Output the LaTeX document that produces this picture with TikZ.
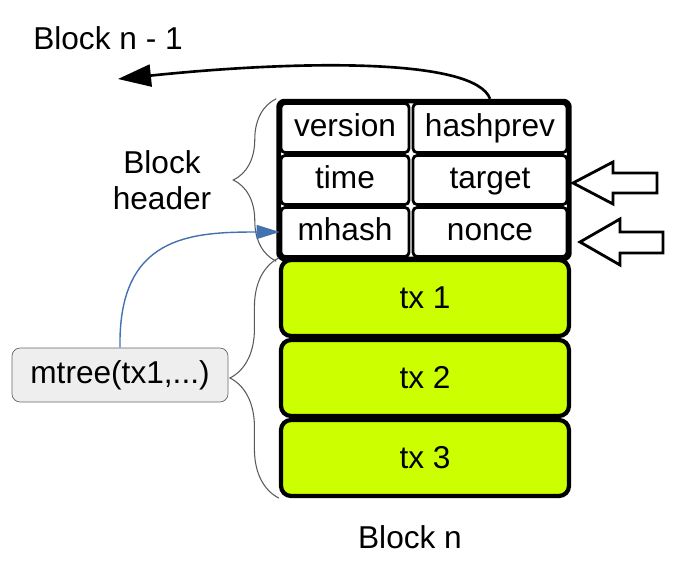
\documentclass[tikz,border=0pt]{standalone}
\usepackage{fontspec}
\setmainfont{Liberation Sans}
\usepackage{tikz}
\usetikzlibrary{arrows.meta,fit,decorations.pathreplacing}
\definecolor{txgreen}{RGB}{204,255,0}
\definecolor{treegray}{RGB}{238,238,238}
\definecolor{linkblue}{RGB}{68,114,176}

\begin{document}
\begin{tikzpicture}[x=0.02cm,y=-0.02cm,
    every node/.style={font=\fontsize{18}{20.5}\selectfont},
    field/.style={draw,fill=white,line width=1.6pt,rounded corners=0.08cm,
                  minimum width=2.56cm,minimum height=0.98cm,inner sep=0pt,
                  text height=13pt,text depth=3.8pt},
    wide field/.style={field,minimum width=3.08cm},
    tx node/.style={draw,fill=txgreen,line width=2.4pt,rounded corners=0.2cm,
                    minimum width=5.76cm,minimum height=1.52cm},
    frame/.style={draw,line width=2.6pt,rounded corners=0.12cm,inner sep=0.6pt},
    tree node/.style={draw=black!60,fill=treegray,rounded corners=0.16cm,
                      minimum width=4.32cm,minimum height=1.08cm},
    side brace/.style={draw=black!65,line width=0.6pt,decorate},
    hollow/.style={draw,fill=white,line width=1.6pt,line join=miter}]
  \useasboundingbox (0,0) rectangle (674,571);

  % header fields
  \node[field] (version) at (345,128) {version};
  \node[wide field] (hashprev) at (490,128) {hashprev};
  \node[field] (time) at (345,180) {time};
  \node[wide field] (target) at (490,180) {target};
  \node[field] (mhash) at (345,232) {mhash};
  \node[wide field] (nonce) at (490,232) {nonce};
  \node[frame,fit=(version)(nonce)] (header) {};

  % transactions
  \foreach \i/\y in {1/298,2/378,3/458}
    \node[tx node] (tx\i) at (425,\y) {tx \i};

  \node (blockn) at (410,537) {Block n};
  \node (prevlabel) at (108,38) {Block n - 1};
  \node[align=center] (hdrlabel) at (162,180) {Block\\header};
  \node[tree node] (mtree) at (120,375) {mtree(tx1,...)};

  \draw[side brace,decoration={brace,amplitude=0.86cm}]
    (header.south west) -- (header.north west);
  \draw[side brace,decoration={brace,amplitude=0.98cm}]
    (tx3.south west) -- (tx1.north west);

  \coordinate (prev) at (118,79);
  \draw[line width=1.5pt,-{Triangle[length=0.66cm,width=0.44cm]}]
    (hashprev.north |- header.north) .. controls (475,58) and (300,60) .. (prev);
  \draw[linkblue,line width=0.8pt,-{Triangle[length=0.46cm,width=0.28cm]}]
    (mtree.north) .. controls (118,236) and (190,232) .. (mhash.west);

  % input arrows
  \coordinate (tgtin) at (573,183);
  \coordinate (nonin) at (580,242);
  \draw[hollow] (tgtin) -- ++(40,-21) -- ++(0,11) -- ++(44,0) -- ++(0,20)
    -- ++(-44,0) -- ++(0,11) -- cycle;
  \draw[hollow] (nonin) -- ++(40,-23) -- ++(0,13) -- ++(43,0) -- ++(0,21)
    -- ++(-43,0) -- ++(0,12) -- cycle;
\end{tikzpicture}
\end{document}
